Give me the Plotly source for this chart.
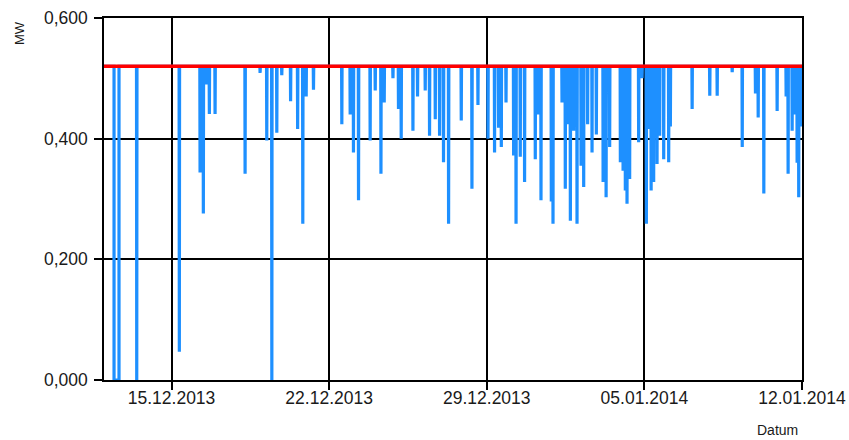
import pandas as pd
import plotly.graph_objects as go

# ---------------- data ----------------
start = pd.Timestamp("2013-12-12 00:00")
end = pd.Timestamp("2014-01-12 00:00")
rated_mw = 0.52

# outage (value 0) early on 12.12.2013, hours after start
outage_start_h = 10.7
outage_end_h = 16.0

# short dips: hours after start and the lowest value reached (MW)
dip_hours = [34.9, 80.3, 102.4, 105.9, 108.8, 112.3, 118.4, 150.4, 166.4, 173.5,
             178.9, 184.2, 189.5, 198.9, 206.4, 211.9, 215.5, 223.3, 253.5, 262.4,
             265.9, 271.3, 283.7, 289.1, 295.2, 298.7, 308.0, 313.9, 316.8, 329.3,
             334.2, 342.4, 347.0, 353.1, 357.7, 361.9, 367.3, 380.8, 392.2, 398.6,
             409.3, 416.3, 420.6, 423.5, 428.5, 436.6, 439.2, 443.7, 448.3, 459.7,
             462.6, 465.8, 476.8, 478.6, 488.2, 491.7, 494.2, 497.1, 500.6, 504.2,
             508.5, 511.3, 515.5, 520.2, 524.8, 532.0, 535.2, 539.0, 550.4, 553.3,
             555.7, 557.5, 560.3, 569.9, 573.5, 578.1, 580.6, 583.2, 585.9, 589.5,
             592.3, 596.6, 601.9, 603.7, 626.9, 645.7, 653.6, 669.6, 680.3, 694.4,
             697.3, 703.3, 717.5, 727.1, 729.2, 733.5, 736.2, 738.8, 740.5, 744.0]
dip_mw = [0.000, 0.047, 0.344, 0.276, 0.490, 0.441, 0.441, 0.342, 0.509, 0.397,
          0.000, 0.410, 0.505, 0.462, 0.416, 0.259, 0.470, 0.481, 0.424, 0.440,
          0.377, 0.298, 0.397, 0.480, 0.342, 0.460, 0.500, 0.449, 0.400, 0.413,
          0.470, 0.480, 0.405, 0.432, 0.405, 0.361, 0.259, 0.430, 0.317, 0.456,
          0.400, 0.377, 0.418, 0.386, 0.460, 0.372, 0.259, 0.370, 0.328, 0.366,
          0.440, 0.298, 0.296, 0.259, 0.460, 0.317, 0.424, 0.264, 0.413, 0.259,
          0.355, 0.320, 0.424, 0.377, 0.407, 0.328, 0.303, 0.386, 0.361, 0.347,
          0.314, 0.292, 0.333, 0.394, 0.500, 0.259, 0.416, 0.314, 0.328, 0.358,
          0.405, 0.366, 0.361, 0.420, 0.449, 0.471, 0.471, 0.510, 0.386, 0.475,
          0.435, 0.309, 0.446, 0.470, 0.342, 0.413, 0.440, 0.360, 0.303, 0.420]

tick_dates = ["2013-12-15", "2013-12-22", "2013-12-29", "2014-01-05", "2014-01-12"]
tick_labels = ["15.12.2013", "22.12.2013", "29.12.2013", "05.01.2014", "12.01.2014"]
y_ticks = [0.0, 0.2, 0.4, 0.6]

# ------------- build the series -------------
hrs = [0.0, outage_start_h, outage_start_h, outage_end_h, outage_end_h]
vals = [rated_mw, rated_mw, 0.0, 0.0, rated_mw]
half = 0.25
for h, v in zip(dip_hours, dip_mw):
    hrs += [h - half, h, h + half]
    vals += [rated_mw, v, rated_mw]
times = start + pd.to_timedelta(hrs, unit="h")

fig = go.Figure()
fig.add_trace(go.Scatter(x=times, y=vals, mode="lines",
                         line=dict(color="#1E90FF", width=3.2), hoverinfo="skip"))
fig.add_trace(go.Scatter(x=[start, end], y=[rated_mw, rated_mw], mode="lines",
                         line=dict(color="#FF0000", width=3.5), hoverinfo="skip"))

tick_font = dict(family="Liberation Sans, Arial, sans-serif", size=17.5, color="#1a1a1a")
axis_common = dict(showline=True, linecolor="black", linewidth=1.5, mirror=True,
                   showgrid=True, gridcolor="black", gridwidth=1.5,
                   ticks="outside", ticklen=8, tickcolor="black", tickwidth=1.5,
                   zeroline=False, tickfont=tick_font, automargin=False)

fig.update_layout(
    width=849, height=440,
    margin=dict(l=104, r=47, t=18, b=60),
    paper_bgcolor="white", plot_bgcolor="white",
    separators=",.",
    showlegend=False,
    xaxis=dict(type="date", range=[start, end], tickmode="array",
               tickvals=tick_dates, ticktext=tick_labels, ticklabelstandoff=-7,
               **axis_common),
    yaxis=dict(range=[0, 0.6], tickmode="array", tickvals=y_ticks,
               tickformat=".3f", ticklabelstandoff=3, **axis_common),
    annotations=[
        dict(text="MW", xref="paper", yref="paper", x=(20 - 104) / 698, y=(380 - 33) / 362,
             showarrow=False, textangle=-90, xanchor="center", yanchor="middle",
             font=dict(family="Liberation Sans, Arial, sans-serif", size=13, color="#1a1a1a")),
        dict(text="Datum", xref="paper", yref="paper", x=(777 - 104) / 698, y=(380 - 430) / 362,
             showarrow=False, xanchor="center", yanchor="middle",
             font=dict(family="Liberation Sans, Arial, sans-serif", size=14, color="#1a1a1a")),
    ],
)

fig.write_html("out.html", config={"displayModeBar": False},
               post_script="document.body.style.margin='0px';")
